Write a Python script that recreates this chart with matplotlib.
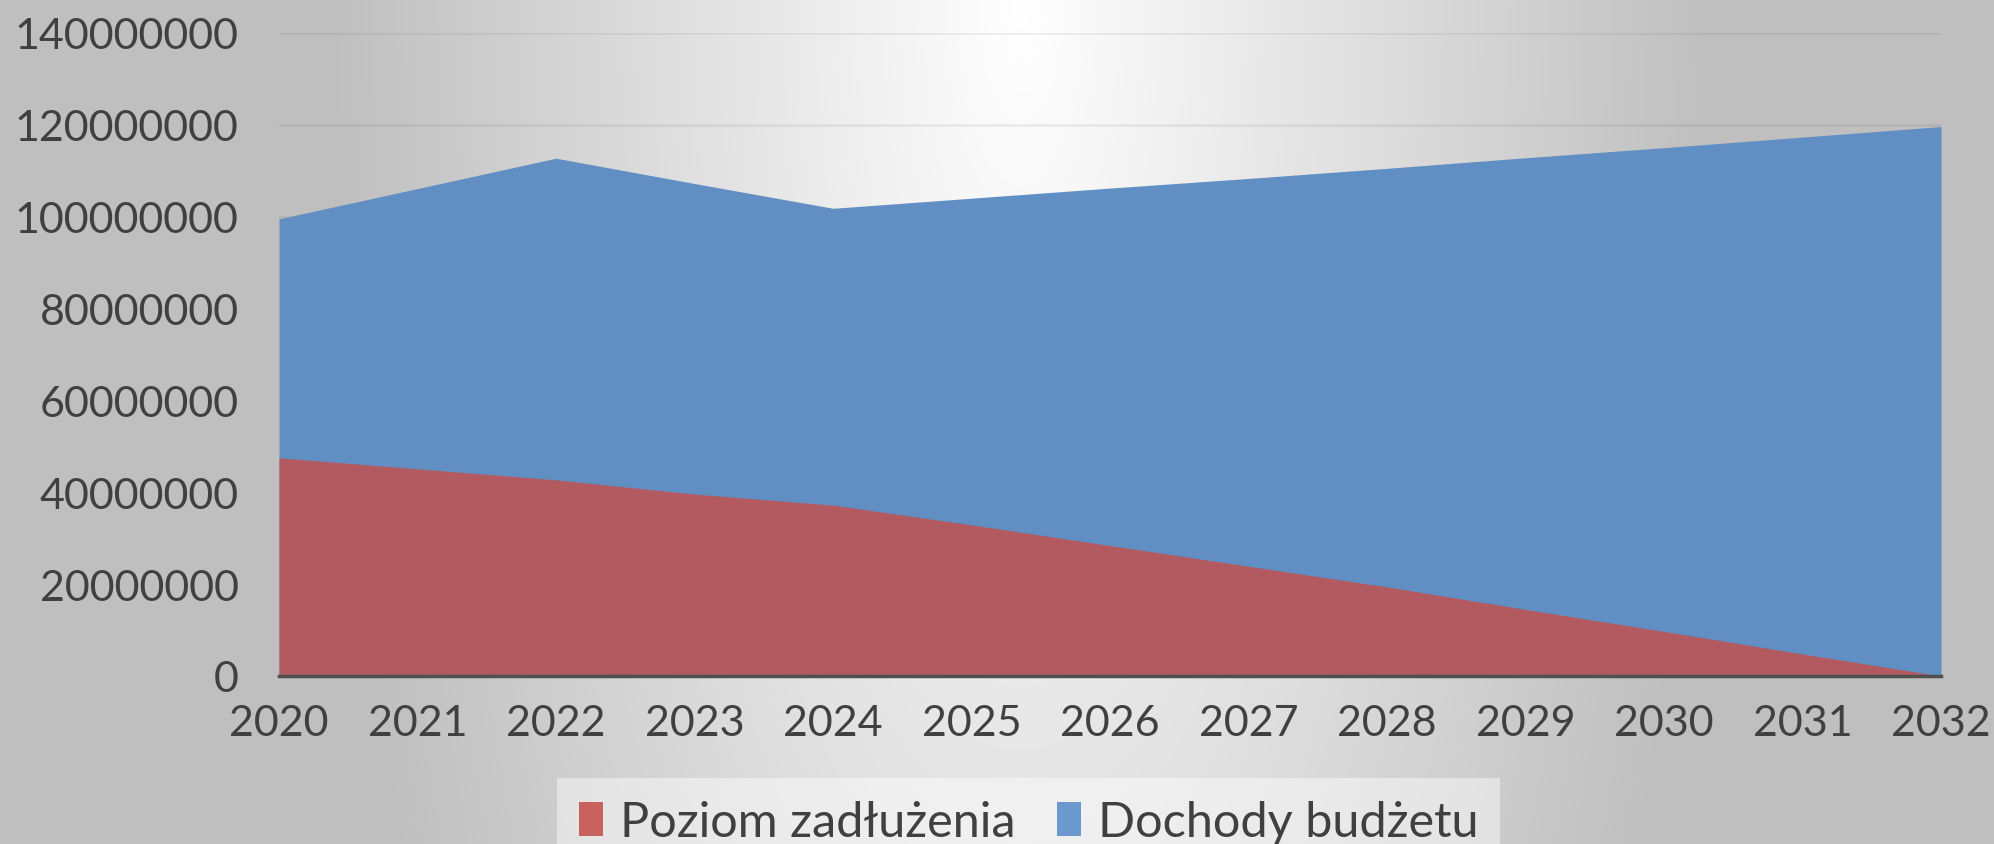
import numpy as np
import matplotlib as mp
mp.use('Agg')
import matplotlib.pyplot as plt
from matplotlib.patches import Patch

plt.rcParams['font.family'] = ['Lato', 'DejaVu Sans']

years = [2020, 2021, 2022, 2023, 2024, 2025, 2026, 2027, 2028, 2029, 2030, 2031, 2032]
dochody = [99.5, 106.1, 112.7, 107.2, 101.8, 104.0, 106.2, 108.3, 110.5, 112.8, 115.0, 117.3, 119.6]   # mln
zadluzenie = [47.5, 45.1, 42.7, 39.6, 37.2, 32.9, 28.4, 23.9, 19.4, 14.5, 9.7, 4.8, 0.0]           # mln
y_ticks = [0, 20000000, 40000000, 60000000, 80000000, 100000000, 120000000, 140000000]
labels = ['Poziom zadłużenia', 'Dochody budżetu']

dochody = np.array(dochody) * 1e6
zadluzenie = np.array(zadluzenie) * 1e6

W, H = 1994, 845
fig = plt.figure(figsize=(W / 100, H / 100), dpi=100)

# gradient background (light in the middle, grey at the sides)
bg = fig.add_axes([0, 0, 1, 1], zorder=-5)
xx, yy = np.meshgrid(np.arange(W), np.arange(H))
d = np.sqrt(((xx - 1020) / 690.0) ** 2 + (yy / 2000.0) ** 2)
v = (255 - 64 * np.clip(d, 0, 1)) / 255.0
bg.imshow(np.dstack([v, v, v]), extent=[0, 1, 0, 1], aspect='auto', origin='upper')
bg.axis('off')

ax = fig.add_axes([279 / W, 1 - 677 / H, (1941 - 279) / W, (677 - 33.8) / H])
ax.patch.set_visible(False)

ax.fill_between(years, 0, dochody, color='#628fc3', lw=0, zorder=2)
ax.fill_between(years, 0, zadluzenie, color='#b25a5f', lw=0, zorder=3)

ax.set_xlim(2020, 2032)
ax.set_ylim(0, 140000000)
ax.set_xticks(years)
ax.set_yticks(y_ticks)
ax.set_yticklabels([str(t) for t in y_ticks])
ax.grid(True, axis='y', color='#000000', alpha=0.06, lw=2, zorder=1)
ax.set_axisbelow(True)

for s in ['top', 'right', 'left']:
    ax.spines[s].set_visible(False)
ax.spines['bottom'].set_color('#505050')
ax.spines['bottom'].set_linewidth(2.5)
ax.spines['bottom'].set_zorder(5)

ax.tick_params(axis='both', length=0, labelsize=31, labelcolor='#404040')
ax.tick_params(axis='y', pad=29)
ax.tick_params(axis='x', pad=20)

handles = [Patch(facecolor='#c8625f', edgecolor='none'),
           Patch(facecolor='#6a98cf', edgecolor='none')]
leg = fig.legend(handles, labels, loc='lower center', bbox_to_anchor=(0.5158, -0.055),
                 ncol=2, fontsize=35, frameon=True, fancybox=False,
                 handlelength=0.5, handleheight=0.7, handletextpad=0.35,
                 columnspacing=0.85, borderpad=0.45, labelcolor='#404040')
leg.get_frame().set_facecolor('#ffffff')
leg.get_frame().set_alpha(0.45)
leg.get_frame().set_edgecolor('none')

plt.savefig('out.png', dpi=100)
